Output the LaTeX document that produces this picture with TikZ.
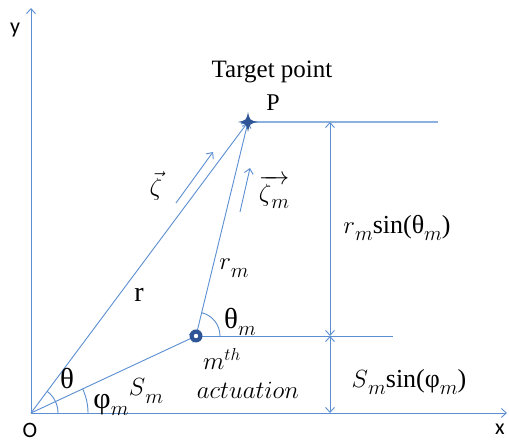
\documentclass[tikz,border=0pt]{standalone}
\usepackage{fontspec}
\usepackage{amsmath}
\setmainfont{Liberation Serif}
\newfontfamily\carl{Carlito}
\usetikzlibrary{arrows.meta,calc}
\definecolor{ln}{RGB}{91,143,210}
\definecolor{dk}{RGB}{47,85,151}
\newcommand\msub{\raisebox{-0.28em}{\fontsize{21}{21}\selectfont$m$}}
\newcommand\bigth{{\fontsize{29}{29}\selectfont θ}}
\newcommand\bigph{{\fontsize{30}{30}\selectfont φ}}
\tikzset{
  ln/.style={draw=ln, line width=0.9pt},
  arr/.style={ln, -{Straight Barb[length=5pt,width=9pt]}},
  darr/.style={ln, {Straight Barb[length=5pt,width=9pt]}-{Straight Barb[length=5pt,width=9pt]}},
  lbl/.style={inner sep=0pt, font=\fontsize{26}{28}\selectfont},
  sans/.style={inner sep=0pt, font=\carl\fontsize{22}{24}\selectfont},
}
\begin{document}
\begin{tikzpicture}[x=1pt,y=1pt]
\useasboundingbox (0,0) rectangle (509,443);
\fill[white] (0,0) rectangle (509,443);
\coordinate (O) at (31,30);
\coordinate (Y) at (31,435);
\coordinate (X) at (507,30);
\coordinate (P) at (248,321);
\coordinate (A) at (196,107);
\coordinate (PE) at (438,321);
\coordinate (AE) at (393,107);
\coordinate (D1) at (330,321);
\coordinate (D2) at (330,107);
\coordinate (D3) at (330,30);
\coordinate (Z1) at (176,240);
\coordinate (Z2) at (213,291);
\coordinate (M1) at (240,231);
\coordinate (M2) at (250,275);
% axes
\draw[arr] (O) -- (Y);
\draw[arr] (O) -- (X);
% horizontal guides
\draw[ln, line width=1.6pt, draw=ln!70] (P) -- (PE);
\draw[ln] (A) -- (AE);
% dimensions
\draw[darr] (D1) -- (D2);
\draw[darr] (D2) -- (D3);
% vectors
\draw[arr] (O) -- (P);
\draw[arr] (O) -- (A);
\draw[arr] (A) -- (P);
\draw[arr] (Z1) -- (Z2);
\draw[arr] (M1) -- (M2);
% angle arcs
\draw[ln] (O) ++(57,0) arc[start angle=0,end angle=25,radius=57];
\draw[ln] (O) ++(27,0) arc[start angle=0,end angle=53.3,radius=27];
\draw[ln] (A) ++(24,0) arc[start angle=0,end angle=76.3,radius=24];
% markers
\fill[dk] (A) circle (6.5);
\fill[white] (A) circle (2.2);
\fill[dk] ($(P)+(10,0)$) .. controls ($(P)+(2,1.5)$) and ($(P)+(1.5,2)$) .. ($(P)+(0,10)$)
  .. controls ($(P)+(-1.5,2)$) and ($(P)+(-2,1.5)$) .. ($(P)+(-10,0)$)
  .. controls ($(P)+(-2,-1.5)$) and ($(P)+(-1.5,-2)$) .. ($(P)+(0,-10)$)
  .. controls ($(P)+(1.5,-2)$) and ($(P)+(2,-1.5)$) .. cycle;
% labels
\node[lbl, font=\fontsize{25}{27}\selectfont] (tp) at (272,371) {Target point};
\node[lbl, font=\fontsize{24}{26}\selectfont] (pl) at (273,340) {P};
\node[lbl] (zl) at (156,257) {$\vec{\zeta}$};
\node[lbl] (zml) at (274,251) {$\overrightarrow{\zeta\msub}$};
\node[lbl, font=\fontsize{28}{30}\selectfont] (rl) at (139,148) {r};
\node[lbl, font=\fontsize{28}{30}\selectfont] (rml) at (234,175) {$r$\msub};
\node[lbl] (tml) at (240,121) {\bigth\msub};
\node[lbl] (mth) at (222,84) {$m^{th}$};
\node[lbl] (act) at (248,53) {$actuation$};
\node[lbl] (sml) at (146,52) {$S$\msub};
\node[lbl] (thl) at (67,64) {\bigth};
\node[lbl] (phl) at (111,38) {\bigph\msub};
\node[lbl] (rs) at (397,215) {$r$\msub sin(θ\msub)};
\node[lbl] (ss) at (409,61) {$S$\msub sin(φ\msub)};
\node[sans] (ol) at (30,13) {O};
\node[sans] (xl) at (500,14) {x};
\node[sans] (yl) at (15,413) {y};
\end{tikzpicture}
\end{document}
